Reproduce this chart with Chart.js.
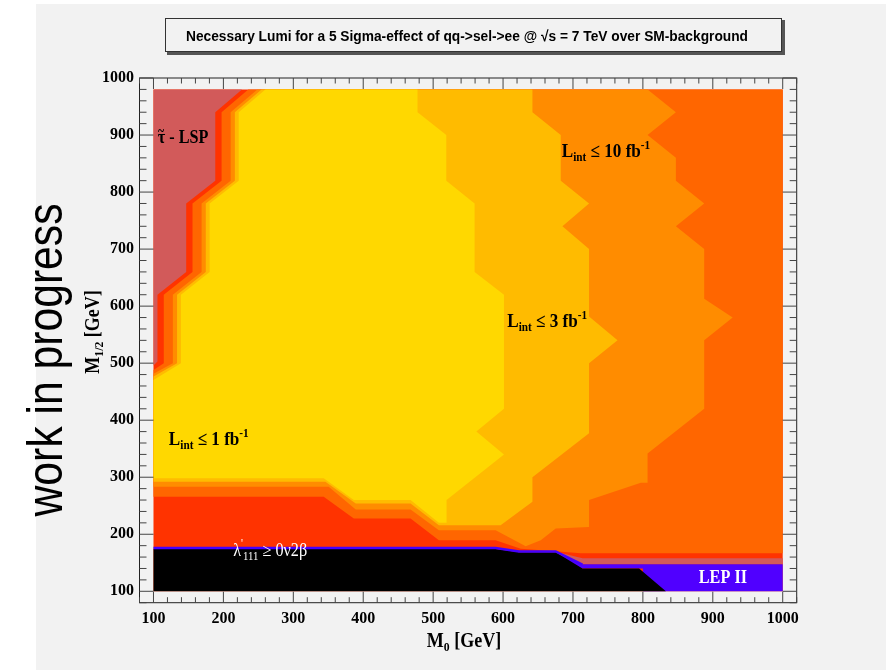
<!DOCTYPE html>
<html>
<head>
<meta charset="utf-8">
<script src="https://cdn.jsdelivr.net/npm/chart.js@4.4.1/dist/chart.umd.min.js"></script>
<style>
  html, body { margin: 0; padding: 0; background: #fff; }
  canvas { display: block; }
</style>
</head>
<body>
<canvas id="chart" width="889" height="670"></canvas>
<script>
// axis ticks (GeV)
const xTicks = [100, 200, 300, 400, 500, 600, 700, 800, 900, 1000];
const yTicks = [100, 200, 300, 400, 500, 600, 700, 800, 900, 1000];

// contour regions, vertices as [M0, M1/2] in GeV
const scanPlane = [[100, 100], [1000, 100], [1000, 980], [100, 980]];

const lumiAbove10 = [
  [235.6, 980], [1000, 980], [1000, 166.8], [711, 166.8], [675.3, 170.4], [625.2, 174.8],
  [589.4, 189.6], [508.2, 189.6], [467.7, 227.7], [386.5, 227.7], [343.5, 265.6], [100, 265.6],
  [100, 488.2], [114.7, 500], [114.7, 620], [155.8, 660], [155.8, 780], [197.4, 820], [197.4, 940]
];

const lumiBelow10 = [
  [248.6, 980], [806.7, 980], [847.2, 940], [806.7, 900], [847.2, 860], [847.2, 820],
  [887.7, 780], [847.2, 740], [887.7, 700], [887.7, 613], [928.4, 580], [887.7, 540],
  [887.7, 420], [806.7, 341.8], [806.7, 290.2], [797.1, 290.2], [723, 260], [723, 212.9],
  [675.3, 210.1], [653.9, 189.6], [632.4, 179], [589.4, 207.2], [508.2, 207.2], [467.7, 243.5],
  [389.3, 243.5], [350.6, 283.2], [100, 283.2], [100, 481.3], [127.7, 500], [127.7, 620],
  [168.8, 660], [168.8, 780], [210.4, 820], [210.4, 940]
];

const lumiBelow3 = [
  [254.6, 980], [642, 980], [642, 940], [682.5, 900], [682.5, 820], [723, 780],
  [684.9, 740], [723, 700], [723, 581.7], [763.7, 540], [723, 500], [723, 377],
  [642, 300], [642, 256.8], [596.5, 215.9], [508.2, 215.9], [467.7, 254], [389.3, 254],
  [345.9, 291.9], [100, 291.9], [100, 476.4], [133.7, 500], [133.7, 620], [174.8, 660],
  [174.8, 780], [216.4, 820], [216.4, 940]
];

const lumiBelow1 = [
  [260.1, 980], [477.7, 980], [477.7, 940], [518.8, 900], [518.8, 820], [559.3, 780],
  [559.3, 660], [601.3, 620], [601.3, 420], [561.8, 380], [601.3, 340], [519.2, 260],
  [519.2, 220], [508.2, 220], [467.7, 260], [386.5, 260], [343.5, 298], [100, 298],
  [100, 470.6], [139.2, 500], [139.2, 620], [180.3, 660], [180.3, 780], [221.9, 820], [221.9, 940]
];

const stauLsp = [
  [100, 980], [226.6, 980], [188.4, 940], [188.4, 820], [146.8, 780], [146.8, 660],
  [105.7, 620], [105.7, 502.8], [100, 496]
];

const stauStrip = [[675.3, 169.4], [713.6, 157.9], [1000, 157.9], [1000, 147.4], [713.6, 147.4], [675.3, 166.5]];

const lepExcluded = [[675.3, 167.5], [713.6, 147.4], [1000, 147.4], [1000, 100], [800, 100], [800, 140], [700, 140]];

const nuBetaBetaExcluded = [
  [100, 174.1], [589.4, 174.1], [622.8, 168.3], [675.3, 168.3], [713.6, 140], [794.6, 140],
  [832.9, 100], [100, 100]
];

const nuBetaBetaEdge = [[100, 175.7], [589.4, 175.7], [622.8, 169.8], [675.3, 169.8], [713.6, 146.9]];

const toPoints = arr => arr.map(p => ({ x: p[0], y: p[1] }));

// bottom layer first
const layers = [
  { data: scanPlane, color: '#ff3300' },
  { data: lumiAbove10, color: '#ff6600' },
  { data: lumiBelow10, color: '#ff8c00' },
  { data: lumiBelow3, color: '#ffbb00' },
  { data: lumiBelow1, color: '#ffd800' },
  { data: stauLsp, color: '#d25a5a' },
  { data: stauStrip, color: '#d25a5a' },
  { data: lepExcluded, color: '#5000ff' },
  { data: nuBetaBetaExcluded, color: '#000000' }
];

const datasets = layers.map((l, i) => ({
  data: toPoints(l.data),
  backgroundColor: l.color,
  borderColor: 'rgba(0,0,0,0)',
  borderWidth: 0,
  fill: 'shape',
  pointRadius: 0,
  tension: 0,
  order: 100 - i
}));
datasets.push({
  data: toPoints(nuBetaBetaEdge),
  borderColor: '#4400ff',
  borderWidth: 2.5,
  fill: false,
  pointRadius: 0,
  tension: 0,
  order: 1
});

const serif = 'Liberation Serif, Times New Roman, serif';
const sans = 'Liberation Sans, Arial, Helvetica, sans-serif';

// rich text parts: [text, size, dy, dx]; a part with dx is overlaid and does not advance
function drawRich(ctx, parts, x, y, opts) {
  const weight = opts.weight || 'bold';
  const sx = opts.squeeze || 1;
  let w = 0;
  parts.forEach(p => {
    if (p[3] !== undefined) return;
    ctx.font = weight + ' ' + p[1] + 'px ' + serif;
    w += ctx.measureText(p[0]).width;
  });
  ctx.save();
  ctx.translate(x, y);
  if (opts.rotate) ctx.rotate(opts.rotate);
  ctx.scale(sx, 1);
  let cx = opts.align === 'center' ? -w / 2 : 0;
  ctx.fillStyle = opts.color || '#000';
  ctx.textBaseline = 'alphabetic';
  ctx.textAlign = 'left';
  parts.forEach(p => {
    ctx.font = weight + ' ' + p[1] + 'px ' + serif;
    if (p[3] !== undefined) {
      ctx.fillText(p[0], cx + p[3], p[2]);
      return;
    }
    ctx.fillText(p[0], cx, p[2]);
    cx += ctx.measureText(p[0]).width;
  });
  ctx.restore();
}

const lumiLabel = v => [['L', 19, 0], ['int', 12.5, 4], [' \u2264 ' + v + ' fb', 19, 0], ['-1', 12.5, -8]];

// in-plot labels anchored at [M0, M1/2]
const annotations = [
  { at: [106, 886], parts: [['\u03c4', 18, 0], ['~', 13, -8, -8], [' - LSP', 18, 0]], color: '#000' },
  { at: [684, 861.6], parts: lumiLabel(10), color: '#000' },
  { at: [606, 563.4], parts: lumiLabel(3), color: '#000' },
  { at: [122, 356.2], parts: lumiLabel(1), color: '#000' },
  { at: [214, 161.5], parts: [['\u03bb', 18, 0], ["'", 12, -9], ['111', 12, 4], [' \u2265 0\u03bd2\u03b2', 18, 0]], color: '#fff', weight: 'normal' },
  { at: [880, 114.7], parts: [['LEP II', 18, 0]], color: '#fff' }
];

const rootStyle = {
  id: 'rootStyle',
  beforeDraw(chart) {
    const ctx = chart.ctx;
    ctx.save();
    ctx.fillStyle = '#ffffff';
    ctx.fillRect(0, 0, chart.width, chart.height);
    ctx.fillStyle = '#f2f2f2';
    ctx.fillRect(36, 4, chart.width - 39, chart.height - 4);
    ctx.restore();
  },
  afterDatasetsDraw(chart) {
    const ctx = chart.ctx;
    const xs = chart.scales.x, ys = chart.scales.y;
    const a = chart.chartArea;
    ctx.save();
    // frame
    ctx.strokeStyle = '#222';
    ctx.lineWidth = 1;
    ctx.strokeRect(a.left, a.top, a.right - a.left, a.bottom - a.top);
    // inward ticks on all four sides
    ctx.strokeStyle = '#444';
    ctx.beginPath();
    for (let v = 80; v <= 1020; v += 20) {
      const major = v % 100 === 0;
      const px = xs.getPixelForValue(v);
      const lx = major ? 11 : 5.5;
      ctx.moveTo(px, a.bottom); ctx.lineTo(px, a.bottom - lx);
      ctx.moveTo(px, a.top); ctx.lineTo(px, a.top + lx);
      if (v <= 1000) {
        const py = ys.getPixelForValue(v);
        const ly = major ? 14 : 7;
        ctx.moveTo(a.left, py); ctx.lineTo(a.left + ly, py);
        ctx.moveTo(a.right, py); ctx.lineTo(a.right - ly, py);
      }
    }
    ctx.stroke();
    ctx.restore();

    annotations.forEach(t => {
      drawRich(ctx, t.parts, xs.getPixelForValue(t.at[0]), ys.getPixelForValue(t.at[1]),
        { color: t.color, weight: t.weight, squeeze: 0.9 });
    });
  },
  afterDraw(chart) {
    const ctx = chart.ctx;
    ctx.save();
    // title box with shadow
    ctx.fillStyle = '#555';
    ctx.fillRect(167, 20, 618, 35);
    ctx.fillStyle = '#f2f2f2';
    ctx.fillRect(165, 18, 617, 34);
    ctx.strokeStyle = '#333';
    ctx.lineWidth = 1;
    ctx.strokeRect(165.5, 18.5, 616, 33);
    const title = 'Necessary Lumi for a 5 Sigma-effect of qq->sel->ee @ \u221as = 7 TeV over SM-background';
    ctx.font = 'bold 15px ' + sans;
    const tw = ctx.measureText(title).width;
    ctx.translate(467, 41);
    ctx.scale(562 / tw, 1);
    ctx.fillStyle = '#000';
    ctx.textAlign = 'center';
    ctx.textBaseline = 'alphabetic';
    ctx.fillText(title, 0, 0);
    ctx.restore();

    // work in progress
    ctx.save();
    ctx.font = '50px ' + sans;
    const ww = ctx.measureText('work in progress').width;
    ctx.translate(48, 360);
    ctx.rotate(-Math.PI / 2);
    ctx.scale(313 / ww, 1);
    ctx.fillStyle = '#000';
    ctx.textAlign = 'center';
    ctx.textBaseline = 'middle';
    ctx.fillText('work in progress', 0, 0);
    ctx.restore();

    // axis titles
    drawRich(ctx, [['M', 20, 0], ['0', 13, 4], [' [GeV]', 20, 0]], 464, 647, { align: 'center', squeeze: 0.9 });
    drawRich(ctx, [['M', 20, 0], ['1/2', 13, 4], [' [GeV]', 20, 0]], 99, 332, { align: 'center', squeeze: 0.9, rotate: -Math.PI / 2 });
  }
};

const tickFont = { family: serif, weight: 'bold', size: 16 };

new Chart(document.getElementById('chart'), {
  type: 'line',
  data: { datasets },
  options: {
    responsive: false,
    animation: false,
    events: [],
    layout: { padding: { left: 0, top: 78, right: 92.3, bottom: 0 } },
    plugins: { legend: { display: false }, tooltip: { enabled: false }, title: { display: false } },
    scales: {
      x: {
        type: 'linear', min: 80, max: 1020,
        grid: { display: false, drawTicks: false }, border: { display: false },
        afterBuildTicks: s => { s.ticks = xTicks.map(v => ({ value: v })); },
        afterFit: s => { s.height = 67.3; },
        ticks: { font: tickFont, color: '#000', padding: 7, maxRotation: 0, autoSkip: false, callback: v => String(v) }
      },
      y: {
        type: 'linear', min: 80, max: 1000,
        grid: { display: false, drawTicks: false }, border: { display: false },
        afterBuildTicks: s => { s.ticks = yTicks.map(v => ({ value: v })); },
        afterFit: s => { s.width = 139.5; },
        ticks: { font: tickFont, color: '#000', padding: 5.5, autoSkip: false, callback: v => String(v) }
      }
    }
  },
  plugins: [rootStyle]
});
</script>
</body>
</html>
